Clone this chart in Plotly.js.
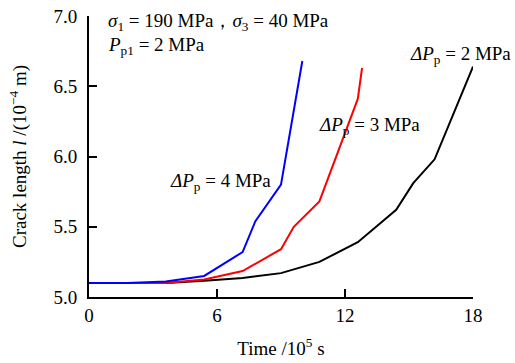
<!DOCTYPE html>
<html>
<head>
<meta charset="utf-8">
<script src="https://cdn.plot.ly/plotly-3.0.1.min.js"></script>
<style>html,body{margin:0;padding:0;background:#fff;}#chart{width:515px;height:363px;}</style>
</head>
<body>
<div id="chart"></div>
<script>
// Data
const timeBlue  = [0, 1.8, 3.6, 5.4, 7.2, 7.8, 9.0, 10.0];
const lenBlue   = [5.10, 5.10, 5.11, 5.15, 5.32, 5.54, 5.80, 6.68];
const timeRed   = [0, 1.8, 3.6, 5.4, 7.2, 9.0, 9.6, 10.8, 12.6, 12.8];
const lenRed    = [5.10, 5.10, 5.10, 5.125, 5.185, 5.34, 5.50, 5.68, 6.41, 6.63];
const timeBlack = [0, 1.8, 3.6, 5.4, 7.2, 9.0, 10.8, 12.6, 14.4, 15.2, 16.2, 18.0];
const lenBlack  = [5.10, 5.10, 5.10, 5.115, 5.135, 5.17, 5.25, 5.39, 5.62, 5.81, 5.98, 6.64];
const seriesNames = ['ΔPp = 4 MPa', 'ΔPp = 3 MPa', 'ΔPp = 2 MPa'];
const xTicks = [0, 6, 12, 18];
const yTicks = [5.0, 5.5, 6.0, 6.5, 7.0];

const FONT = '"Liberation Serif", "Times New Roman", serif';
const F = {family: FONT, size: 19, color: '#000'};

const traces = [
  {x: timeBlack, y: lenBlack, mode: 'lines', name: seriesNames[2], line: {color: '#000000', width: 2}},
  {x: timeRed, y: lenRed, mode: 'lines', name: seriesNames[1], line: {color: '#ff0000', width: 2}},
  {x: timeBlue, y: lenBlue, mode: 'lines', name: seriesNames[0], line: {color: '#0000ff', width: 2}}
];

function ann(x, y, text) {
  return {x: x, y: y, xref: 'x', yref: 'y', xanchor: 'left', yanchor: 'middle',
          showarrow: false, text: text, font: F};
}

const layout = {
  width: 515, height: 363,
  margin: {l: 89, r: 42, t: 16, b: 66},
  paper_bgcolor: '#fff', plot_bgcolor: '#fff',
  showlegend: false,
  font: F,
  xaxis: {
    range: [0, 18], tickvals: xTicks, ticktext: xTicks.map(String),
    showgrid: false, zeroline: false, showline: true, linecolor: '#000', linewidth: 2,
    ticks: 'inside', ticklen: 8, tickwidth: 2, tickcolor: '#000',
    tickfont: F,
    title: {text: 'Time /10<sup>5</sup> s', font: F, standoff: 17}
  },
  yaxis: {
    range: [5, 7], tickvals: yTicks, ticktext: yTicks.map(v => v.toFixed(1)),
    showgrid: false, zeroline: false, showline: true, linecolor: '#000', linewidth: 2,
    ticks: 'inside', ticklen: 8, tickwidth: 2, tickcolor: '#000',
    ticklabelstandoff: 6,
    tickfont: F,
    title: {text: 'Crack length <i>l</i> /(10<sup>−4</sup> m)', font: F, standoff: 22}
  },
  annotations: [
    ann(0.8, 6.96, '<i>σ</i><sub>1</sub> = 190 MPa，<i>σ</i><sub>3</sub> = 40 MPa'),
    ann(0.8, 6.79, '<i>P</i><sub>p1</sub> = 2 MPa'),
    ann(14.95, 6.72, '<i>ΔP</i><sub>p</sub> = 2 MPa'),
    ann(10.67, 6.22, '<i>ΔP</i><sub>p</sub> = 3 MPa'),
    ann(3.69, 5.82, '<i>ΔP</i><sub>p</sub> = 4 MPa')
  ]
};

Plotly.newPlot('chart', traces, layout, {displayModeBar: false});
</script>
</body>
</html>
